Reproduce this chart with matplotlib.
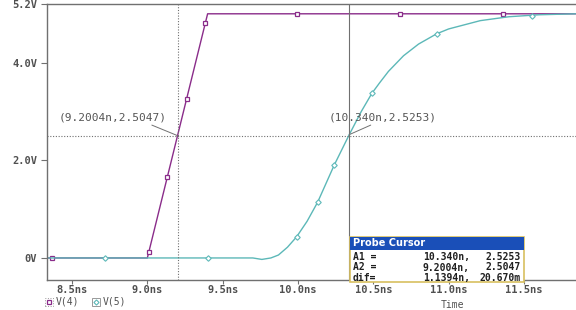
import matplotlib.pyplot as plt
from matplotlib.lines import Line2D
from matplotlib.patches import Rectangle

# V(4): fast ramp
t4 = [8.334, 9.0, 9.40, 11.845]
v4 = [0.0, 0.0, 5.0, 5.0]
t4_mk = [8.37, 9.01, 9.133, 9.26, 9.385, 9.99, 10.68, 11.36]
v4_mk = [0.0, 0.13, 1.66, 3.25, 4.81, 5.0, 5.0, 5.0]

# V(5): slower rise
t5 = [8.334, 9.0, 9.5, 9.70, 9.76, 9.82, 9.87, 9.93, 9.99, 10.06, 10.13, 10.24,
      10.34, 10.42, 10.49, 10.54, 10.60, 10.70, 10.80, 10.92, 11.0, 11.21, 11.4,
      11.6, 11.845]
v5 = [0.0, 0.0, 0.0, 0.0, -0.03, 0.0, 0.06, 0.22, 0.43, 0.75, 1.14, 1.90,
      2.525, 3.0, 3.37, 3.58, 3.82, 4.14, 4.38, 4.59, 4.69, 4.86, 4.94,
      4.98, 5.0]
t5_mk = [8.72, 9.40, 9.99, 10.13, 10.24, 10.49, 10.92, 11.55]
v5_mk = [0.0, 0.0, 0.43, 1.14, 1.90, 3.37, 4.59, 4.96]

x_ticks = [8.5, 9.0, 9.5, 10.0, 10.5, 11.0, 11.5]
x_labels = ["8.5ns", "9.0ns", "9.5ns", "10.0ns", "10.5ns", "11.0ns", "11.5ns"]
y_ticks = [0, 2.0, 4.0, 5.2]
y_labels = ["0V", "2.0V", "4.0V", "5.2V"]

cur_a1 = (10.340, 2.5253)
cur_a2 = (9.2004, 2.5047)
probe_rows = [("A1 =", "10.340n,", "2.5253"),
              ("A2 =", "9.2004n,", "2.5047"),
              ("dif=", "1.1394n,", "20.670m")]

purple = "#8a2c8a"
cyan = "#5cb8b8"
grey = "#707070"
mono = "DejaVu Sans Mono"

fig = plt.figure(figsize=(5.76, 3.10), dpi=100)
ax = fig.add_axes([0.0816, 0.097, 0.9184, 0.890])

ax.plot(t4, v4, color=purple, lw=1.0)
ax.plot(t4_mk, v4_mk, ls="none", marker="s", ms=3.2, mfc="white", mec=purple, mew=0.9)
ax.plot(t5, v5, color=cyan, lw=1.0)
ax.plot(t5_mk, v5_mk, ls="none", marker="D", ms=2.8, mfc="white", mec=cyan, mew=0.8)

# cursors
ax.axvline(cur_a2[0], color=grey, lw=0.8, ls=(0, (1, 1.5)))
ax.axhline(cur_a2[1], color=grey, lw=0.8, ls=(0, (1, 1.5)))
ax.axvline(cur_a1[0], color=grey, lw=0.8)

ax.annotate("(9.2004n,2.5047)", xy=cur_a2, xytext=(8.77, 2.88),
            fontsize=8, family=mono, color="#555555", ha="center", va="center",
            arrowprops=dict(arrowstyle="-", color=grey, lw=0.7, shrinkA=0, shrinkB=0,
                            relpos=(0.8, 0.0)))
ax.annotate("(10.340n,2.5253)", xy=cur_a1, xytext=(10.56, 2.88),
            fontsize=8, family=mono, color="#555555", ha="center", va="center",
            arrowprops=dict(arrowstyle="-", color=grey, lw=0.7, shrinkA=0, shrinkB=0,
                            relpos=(0.45, 0.0)))

ax.set_xlim(8.334, 11.845)
ax.set_ylim(-0.45, 5.2)
ax.set_xticks(x_ticks)
ax.set_xticklabels(x_labels)
ax.set_yticks(y_ticks)
ax.set_yticklabels(y_labels)
for lab in ax.get_xticklabels() + ax.get_yticklabels():
    lab.set_family(mono)
    lab.set_fontsize(7.5)
    lab.set_fontweight("bold")
    lab.set_color("#505050")
ax.tick_params(direction="out", length=3, width=0.8, color=grey, pad=1.0)
ax.tick_params(axis="y", length=4, pad=3)
for side in ["left", "bottom", "top"]:
    ax.spines[side].set_color(grey)
    ax.spines[side].set_linewidth(1.0)
ax.spines["right"].set_visible(False)

fig.text(0.785, 0.016, "Time", fontsize=7, family=mono, color="#505050",
         ha="center", va="center")

# legend below the plot
ly = 0.027
fig.add_artist(Rectangle((0.078, ly - 0.013), 0.014, 0.026, transform=fig.transFigure,
                         fill=False, ec="#999999", lw=0.7, ls=":"))
fig.add_artist(Line2D([0.085], [ly], transform=fig.transFigure, marker="s", ms=3,
                      mfc="white", mec=purple, mew=0.9))
fig.text(0.097, ly, "V(4)", fontsize=7, family=mono, color="#505050", va="center")
fig.add_artist(Rectangle((0.160, ly - 0.013), 0.014, 0.026, transform=fig.transFigure,
                         fill=False, ec="#999999", lw=0.7))
fig.add_artist(Line2D([0.167], [ly], transform=fig.transFigure, marker="D", ms=2.6,
                      mfc="white", mec=cyan, mew=0.8))
fig.text(0.179, ly, "V(5)", fontsize=7, family=mono, color="#505050", va="center")

# probe cursor window
bx, by, bw, bh = 350 / 576, 1 - 282 / 310, 174 / 576, 45 / 310
fig.add_artist(Rectangle((bx, by), bw, bh, transform=fig.transFigure,
                         fc="white", ec="#d8c060", lw=1.2, zorder=5))
th = 13 / 310
fig.add_artist(Rectangle((bx, by + bh - th), bw, th, transform=fig.transFigure,
                         fc="#1a4fb8", ec="none", zorder=6))
fig.text(bx + 0.005, by + bh - th / 2, "Probe Cursor", fontsize=7, fontweight="bold",
         color="white", va="center", zorder=7, family="DejaVu Sans")
for i, (name, tval, vval) in enumerate(probe_rows):
    yy = by + bh - th - (7 + i * 10.5) / 310
    fig.text(bx + 0.005, yy, name, fontsize=7, family=mono, fontweight="bold",
             color="#202020", va="center", zorder=7)
    fig.text(bx + 0.208, yy, tval, fontsize=7, family=mono, fontweight="bold",
             color="#202020", va="center", ha="right", zorder=7)
    fig.text(bx + bw - 0.006, yy, vval, fontsize=7, family=mono, fontweight="bold",
             color="#202020", va="center", ha="right", zorder=7)

fig.savefig("out.png", dpi=100)
